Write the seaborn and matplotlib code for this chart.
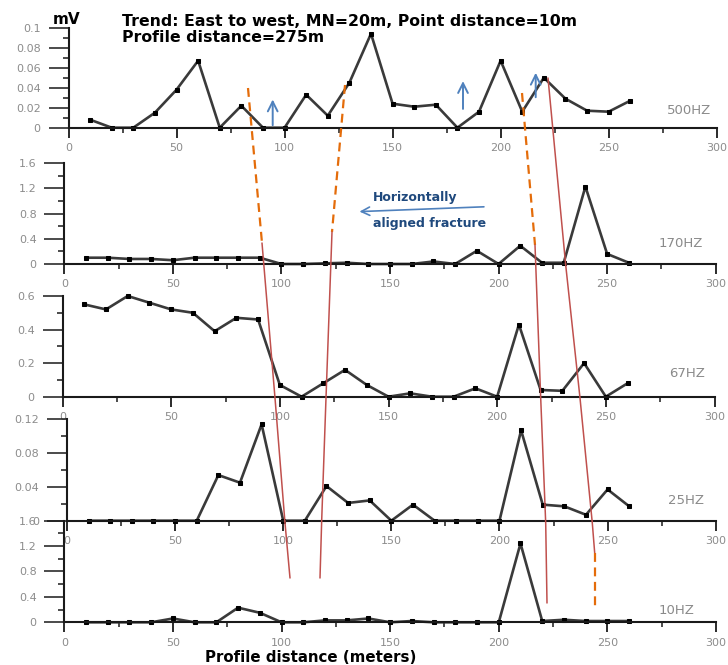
import matplotlib
matplotlib.use("Agg")
import matplotlib.pyplot as plt
from matplotlib.lines import Line2D
from matplotlib.patches import FancyArrowPatch
from matplotlib.ticker import FixedLocator, MultipleLocator
import seaborn as sns

# Station positions along the profile (m)
distance = [10, 20, 30, 40, 50, 60, 70, 80, 90, 100, 110, 120, 130,
            140, 150, 160, 170, 180, 190, 200, 210, 220, 230, 240, 250, 260]

# Measured amplitude (mV) at each frequency
v500 = [0.008, 0, 0, 0.015, 0.038, 0.067, 0, 0.022, 0, 0, 0.033, 0.012, 0.045,
        0.094, 0.024, 0.021, 0.023, 0, 0.016, 0.067, 0.016, 0.050, 0.029, 0.017, 0.016, 0.027]
v170 = [0.10, 0.10, 0.08, 0.08, 0.06, 0.10, 0.10, 0.10, 0.10, 0, 0, 0.01, 0.02,
        0, 0, 0, 0.04, 0, 0.21, 0, 0.29, 0.02, 0.02, 1.23, 0.16, 0.02]
v67 = [0.55, 0.52, 0.60, 0.56, 0.52, 0.50, 0.39, 0.47, 0.46, 0.07, 0, 0.08, 0.16,
       0.07, 0, 0.02, 0, 0, 0.05, 0, 0.43, 0.04, 0.035, 0.20, 0, 0.08]
v25 = [0, 0, 0, 0, 0, 0, 0.054, 0.045, 0.114, 0, 0, 0.041, 0.021,
       0.024, 0, 0.019, 0, 0, 0, 0, 0.107, 0.019, 0.017, 0.007, 0.037, 0.017]
v10 = [0, 0, 0, 0, 0.06, 0, 0, 0.23, 0.15, 0, 0, 0.03, 0.03,
       0.06, 0, 0.02, 0, 0, 0, 0, 1.24, 0.02, 0.04, 0.02, 0.02, 0.02]

freq_labels = ["500HZ", "170HZ", "67HZ", "25HZ", "10HZ"]

# y tick values and their printed labels for each panel
yt500 = [0, 0.02, 0.04, 0.06, 0.08, 0.1]
yl500 = ["0", "0.02", "0.04", "0.06", "0.08", "0.1"]
yt170 = [0, 0.4, 0.8, 1.2, 1.6]
yl170 = ["0", "0.4", "0.8", "1.2", "1.6"]
yt67 = [0, 0.2, 0.4, 0.6]
yl67 = ["0", "0.2", "0.4", "0.6"]
yt25 = [0, 0.04, 0.08, 0.12]
yl25 = ["0", "0.04", "0.08", "0.12"]
yt10 = [0, 0.4, 0.8, 1.2, 1.6]
yl10 = ["0", "0.4", "0.8", "1.2", "1.6"]

xt = [0, 50, 100, 150, 200, 250, 300]
xl = ["0", "50", "100", "150", "200", "250", "300"]

sns.set_style("white")
plt.rcParams["font.family"] = ["DejaVu Sans"]

W, H = 728, 665
fig = plt.figure(figsize=(W / 100, H / 100), dpi=100)
fig.patch.set_facecolor("white")


def fx(x):
    return x / W


def fy(y):
    return 1 - y / H


# (values, y-ticks, y-labels, y-minor step, left px, right px, zero px, top px, label pos)
panels = [
    (v500, yt500, yl500, 0.01, 68.5, 716.7, 127.7, 27.7, (689, 110)),
    (v170, yt170, yl170, 0.2, 64.3, 715.7, 264.0, 163.3, (681, 243)),
    (v67, yt67, yl67, 0.1, 62.5, 714.5, 396.7, 296.0, (687, 373)),
    (v25, yt25, yl25, 0.02, 67.0, 715.7, 520.7, 419.3, (686, 500)),
    (v10, yt10, yl10, 0.2, 64.3, 716.0, 622.3, 520.6, (677, 610)),
]

tick_gray = "#8c8c8c"
line_col = "#3a3a3a"

for (vals, yt, yl, ymin_step, xl_px, xr_px, y0, ytop, lab), name in zip(panels, freq_labels):
    ax = fig.add_axes([fx(xl_px), fy(y0), (xr_px - xl_px) / W, (y0 - ytop) / H])
    ax.patch.set_alpha(0)
    sns.lineplot(x=distance, y=vals, ax=ax, color=line_col, linewidth=1.9,
                 marker="s", markersize=3.0, markerfacecolor="black",
                 markeredgecolor="black", errorbar=None)
    for ln in ax.lines:
        ln.set_clip_on(False)
    ax.set_xlim(0, 300)
    ax.set_ylim(0, yt[-1])
    ax.xaxis.set_major_locator(FixedLocator(xt))
    ax.set_xticklabels(xl)
    ax.xaxis.set_minor_locator(MultipleLocator(25))
    ax.yaxis.set_major_locator(FixedLocator(yt))
    ax.set_yticklabels(yl)
    ax.yaxis.set_minor_locator(MultipleLocator(ymin_step))
    for s in ("top", "right"):
        ax.spines[s].set_visible(False)
    for s in ("left", "bottom"):
        ax.spines[s].set_linewidth(1.5)
        ax.spines[s].set_color("#1a1a1a")
    ax.tick_params(axis="y", which="major", direction="out", length=14.5, width=1.1,
                   color="#1a1a1a", labelsize=8, labelcolor=tick_gray, pad=5.5, left=True)
    ax.tick_params(axis="y", which="minor", direction="out", length=4.5, width=1.1,
                   color="#1a1a1a", left=True)
    ax.tick_params(axis="x", which="major", direction="out", length=7.5, width=1.3,
                   color="#1a1a1a", labelsize=8, labelcolor=tick_gray, pad=3.5, bottom=True)
    ax.tick_params(axis="x", which="minor", direction="out", length=3.8, width=1.1,
                   color="#1a1a1a", bottom=True)
    ax.set_xlabel("")
    ax.set_ylabel("")
    fig.text(fx(lab[0]), fy(lab[1]), name, ha="center", va="center",
             fontsize=9.5, color="#8a8a8a")

# Header text
fig.text(fx(67), fy(19), "mV", ha="center", va="center", fontsize=11,
         fontweight="bold", color="black")
fig.text(fx(122), fy(21), "Trend: East to west, MN=20m, Point distance=10m",
         ha="left", va="center", fontsize=11.3, fontweight="bold", color="black")
fig.text(fx(122), fy(38), "Profile distance=275m",
         ha="left", va="center", fontsize=11.3, fontweight="bold", color="black")
fig.text(fx(205), fy(657), "Profile distance (meters)",
         ha="left", va="center", fontsize=10.8, fontweight="bold", color="black")

# Fracture annotation
fig.text(fx(373), fy(197), "Horizontally", ha="left", va="center",
         fontsize=9, fontweight="bold", color="#1f497d")
fig.text(fx(373), fy(224), "aligned fracture", ha="left", va="center",
         fontsize=9, fontweight="bold", color="#1f497d")

arrow_blue = "#4f81bd"
fig.add_artist(FancyArrowPatch(
    (fx(486.7), fy(206.7)), (fx(356.7), fy(211.7)), transform=fig.transFigure,
    arrowstyle="->,head_width=3,head_length=6", color=arrow_blue, lw=1.2))

for x, yb, yt_ in [(272.7, 128, 96.7), (463, 111.7, 78.3), (535.7, 100, 70)]:
    fig.add_artist(FancyArrowPatch(
        (fx(x), fy(yb)), (fx(x), fy(yt_)), transform=fig.transFigure,
        arrowstyle="->,head_width=3.5,head_length=7", color=arrow_blue, lw=1.4))

# Interpreted fracture traces across the panels
red = "#c0504d"
orange = "#e46c0a"


def trace(points, color, dashed, lw):
    xs = [fx(p[0]) for p in points]
    ys = [fy(p[1]) for p in points]
    ln = Line2D(xs, ys, transform=fig.transFigure, color=color, lw=lw,
                linestyle=(0, (4, 2.5)) if dashed else "-")
    fig.add_artist(ln)


trace([(248, 88), (262, 243)], orange, True, 1.6)
trace([(262, 243), (275, 398), (285, 523), (290, 578)], red, False, 1.1)
trace([(345, 85), (332, 232)], orange, True, 1.6)
trace([(332, 232), (326, 398), (321.7, 520), (320, 578)], red, False, 1.1)
trace([(522, 93), (535, 245)], orange, True, 1.6)
trace([(535, 245), (540.7, 398), (545.7, 523), (547, 603)], red, False, 1.1)
trace([(548, 78), (565.7, 265), (580, 398), (592.3, 523), (594.7, 553)], red, False, 1.1)
trace([(594.7, 553), (594.7, 610)], orange, True, 1.6)

fig.savefig("out.png", dpi=100, facecolor="white")
